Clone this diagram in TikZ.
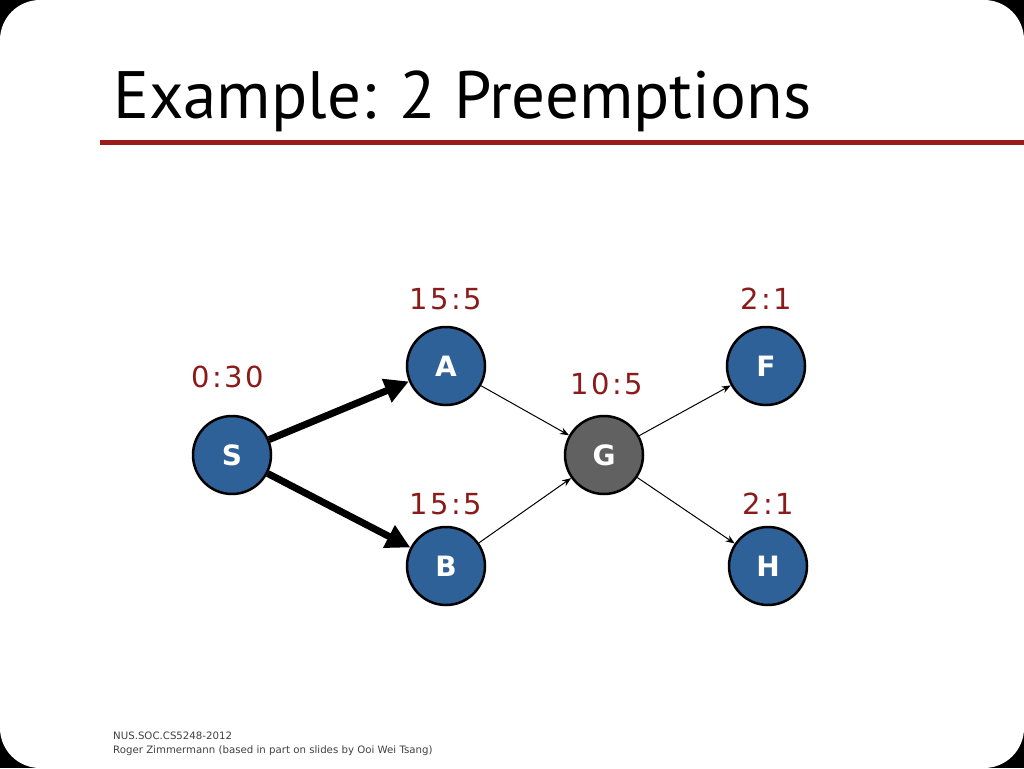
\documentclass[tikz,border=0pt]{standalone}
\usepackage{fontspec}
\setmainfont{DejaVu Sans}
\newfontfamily\titlefont{PT Sans}
\newfontfamily\lblfont[LetterSpace=8]{DejaVu Sans}
\usetikzlibrary{arrows.meta}
\definecolor{nodeblue}{HTML}{2F6199}
\definecolor{darkred}{HTML}{8B1A1A}
\definecolor{rulered}{HTML}{9B1B1B}
\tikzset{
  vert/.style={circle,draw=black,line width=2.5pt,fill=nodeblue,minimum size=78pt,inner sep=0pt,text=white,font=\fontsize{28}{30}\selectfont\bfseries},
  lbl/.style={text=darkred,font=\lblfont\fontsize{29}{32}\selectfont},
  thick arrow/.style={line width=7pt,-{Triangle[length=24pt,width=24pt]}},
  thin arrow/.style={line width=1pt,-{Stealth[length=9pt,width=7pt]}}
}
\begin{document}
\begin{tikzpicture}[x=1pt,y=-1pt]
\fill[black] (0,0) rectangle (1024,768);
\fill[white,rounded corners=40pt] (0,0) rectangle (1024,768);
\useasboundingbox (0,0) rectangle (1024,768);
\node[anchor=base west,inner sep=0pt,font=\titlefont\fontsize{67}{70}\selectfont] (title) at (113,118) {Example: 2 Preemptions};
\fill[rulered] (100,139.5) rectangle (1024,144.5);
\node[vert] (S) at (232,455) {S};
\node[vert] (A) at (446,366) {A};
\node[vert] (B) at (446,566) {B};
\node[vert,fill=black!62] (G) at (604,455) {G};
\node[vert] (F) at (766,366) {F};
\node[vert] (H) at (768,566) {H};
\node[lbl] (lS) at (228,377) {0:30};
\node[lbl] (lA) at (446,299) {15:5};
\node[lbl] (lB) at (446,504) {15:5};
\node[lbl] (lG) at (607,384) {10:5};
\node[lbl] (lF) at (766,299) {2:1};
\node[lbl] (lH) at (768,504) {2:1};
\draw[thick arrow] (S) -- (A);
\draw[thick arrow] (S) -- (B);
\draw[thin arrow] (A) -- (G);
\draw[thin arrow] (B) -- (G);
\draw[thin arrow] (G) -- (F);
\draw[thin arrow] (G) -- (H);
\node[anchor=base west,inner sep=0pt,text=black!75,font=\fontsize{10.2}{14}\selectfont,align=left] (foot) at (113,753) {NUS.SOC.CS5248-2012\\Roger Zimmermann (based in part on slides by Ooi Wei Tsang)};
\end{tikzpicture}
\end{document}
